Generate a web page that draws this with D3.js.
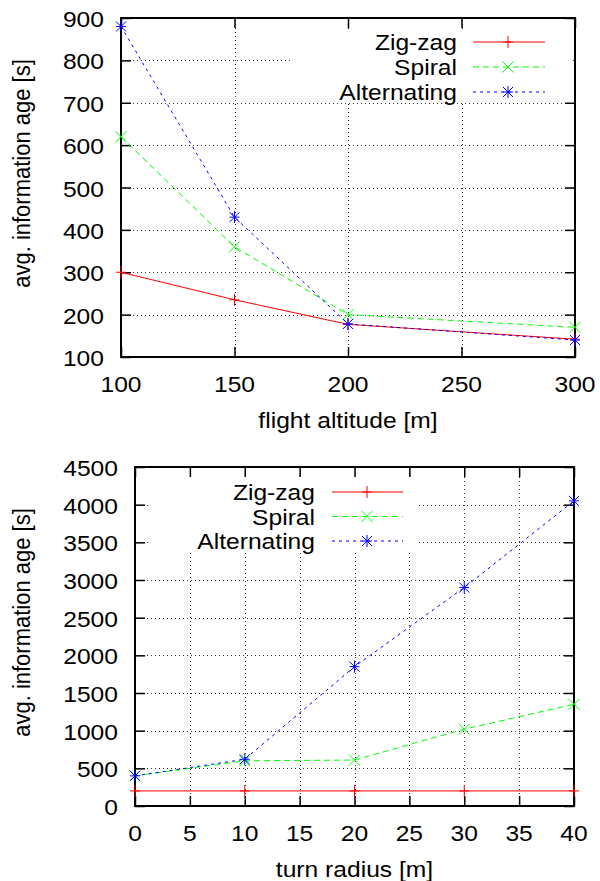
<!DOCTYPE html>
<html>
<head>
<meta charset="utf-8">
<script src="https://cdn.jsdelivr.net/npm/d3@7"></script>
<style>
html,body{margin:0;padding:0;background:#fff;}
svg{display:block;}
text{font-family:"Liberation Sans",Arial,sans-serif;font-size:22px;fill:#000;}
</style>
</head>
<body>
<svg id="chart" width="600" height="881"></svg>
<script>
// ---- data: chart 1 (flight altitude) ----
const altitude = [100, 150, 200, 300];
const altZigzag = [300, 235, 177, 142];
const altSpiral = [620, 360, 200, 170];
const altAlternating = [880, 430, 178, 140];
const altXTicks = [100, 150, 200, 250, 300];
const altYTicks = [100, 200, 300, 400, 500, 600, 700, 800, 900];

// ---- data: chart 2 (turn radius) ----
const radius = [0, 10, 20, 30, 40];
const radZigzag = [200, 200, 200, 200, 200];
const radSpiral = [400, 600, 610, 1020, 1350];
const radAlternating = [400, 620, 1850, 2900, 4050];
const radXTicks = [0, 5, 10, 15, 20, 25, 30, 35, 40];
const radYTicks = [0, 500, 1000, 1500, 2000, 2500, 3000, 3500, 4000, 4500];

const seriesNames = ["Zig-zag", "Spiral", "Alternating"];
const seriesColors = ["#ff0000", "#00ff00", "#0000ff"];
const seriesDash = [null, "6,4", "3,4"];
const seriesMarker = ["plus", "cross", "star"];

const SX = 1.12; // horizontal text stretch
const svg = d3.select("#chart");

function marker(g, type, x, y, color) {
  const p = d3.path();
  if (type === "plus" || type === "star") {
    p.moveTo(x - 5, y); p.lineTo(x + 5, y);
    p.moveTo(x, y - 6); p.lineTo(x, y + 6);
  }
  if (type === "cross" || type === "star") {
    const s = type === "cross" ? 5.5 : 5;
    p.moveTo(x - s, y - s); p.lineTo(x + s, y + s);
    p.moveTo(x - s, y + s); p.lineTo(x + s, y - s);
  }
  g.append("path").attr("d", p.toString()).attr("stroke", color)
    .attr("stroke-width", 1).attr("fill", "none");
}

function stretchText(g, x, y, str, anchor, rotate) {
  return g.append("text")
    .attr("transform", `translate(${x},${y}) scale(${SX},1)` + (rotate ? ` rotate(${rotate})` : ""))
    .attr("text-anchor", anchor)
    .text(str);
}

function drawChart(cfg) {
  const g = svg.append("g");
  const x = d3.scaleLinear().domain(cfg.xDomain).range([cfg.left, cfg.right]);
  const y = d3.scaleLinear().domain(cfg.yDomain).range([cfg.bottom, cfg.top]);

  // grid
  const grid = g.append("g").attr("stroke", "#000").attr("stroke-width", 1)
    .attr("stroke-dasharray", "1,3").attr("opacity", 0.8);
  cfg.xTicks.forEach(t => {
    if (t === cfg.xDomain[0] || t === cfg.xDomain[1]) return;
    grid.append("line").attr("x1", Math.round(x(t)) + 0.5).attr("x2", Math.round(x(t)) + 0.5)
      .attr("y1", cfg.bottom).attr("y2", cfg.top);
  });
  cfg.yTicks.forEach(t => {
    if (t === cfg.yDomain[0] || t === cfg.yDomain[1]) return;
    grid.append("line").attr("y1", Math.round(y(t)) + 0.5).attr("y2", Math.round(y(t)) + 0.5)
      .attr("x1", cfg.left).attr("x2", cfg.right);
  });

  // opaque legend area
  g.append("rect").attr("x", cfg.keyBox[0]).attr("y", cfg.keyBox[1])
    .attr("width", cfg.keyBox[2] - cfg.keyBox[0]).attr("height", cfg.keyBox[3] - cfg.keyBox[1])
    .attr("fill", "#fff");

  // axes using d3 axis generators (ticks inward, mirrored)
  const tl = 10;
  const axB = g.append("g").attr("transform", `translate(0,${cfg.bottom})`)
    .call(d3.axisBottom(x).tickValues(cfg.xTicks).tickSize(-tl).tickFormat(""));
  const axT = g.append("g").attr("transform", `translate(0,${cfg.top})`)
    .call(d3.axisTop(x).tickValues(cfg.xTicks).tickSize(-tl).tickFormat(""));
  const axL = g.append("g").attr("transform", `translate(${cfg.left},0)`)
    .call(d3.axisLeft(y).tickValues(cfg.yTicks).tickSize(-tl).tickFormat(""));
  const axR = g.append("g").attr("transform", `translate(${cfg.right},0)`)
    .call(d3.axisRight(y).tickValues(cfg.yTicks).tickSize(-tl).tickFormat(""));
  [axB, axT, axL, axR].forEach(a => {
    a.select(".domain").remove();
    a.selectAll(".tick line").attr("stroke", "#000").attr("stroke-width", 1.5);
  });
  // hide ticks inside the opaque key box
  [axT, axR, axL].forEach(a => {
    a.selectAll(".tick").each(function () {
      const bb = this.getBBox();
      const m = this.getCTM();
      const cx = m.e + bb.x + bb.width / 2, cy = m.f + bb.y + bb.height / 2;
      if (cx > cfg.keyBox[0] && cx < cfg.keyBox[2] && cy > cfg.keyBox[1] && cy < cfg.keyBox[3]) d3.select(this).remove();
    });
  });

  // tick labels
  cfg.xTicks.forEach(t => stretchText(g, x(t), cfg.bottom + 34.5, String(t), "middle"));
  cfg.yTicks.forEach(t => stretchText(g, cfg.left - 17, y(t) + 9, String(t), "end"));

  // frame
  g.append("rect").attr("x", cfg.left).attr("y", cfg.top)
    .attr("width", cfg.right - cfg.left).attr("height", cfg.bottom - cfg.top)
    .attr("fill", "none").attr("stroke", "#000").attr("stroke-width", 2);

  // axis titles
  stretchText(g, (cfg.left + cfg.right) / 2, cfg.bottom + 71, cfg.xTitle, "middle");
  stretchText(g, 30, (cfg.top + cfg.bottom) / 2 - 14, cfg.yTitle, "middle", -90);

  // series
  cfg.series.forEach((vals, i) => {
    const line = d3.line().x((d, j) => x(cfg.xs[j])).y(d => y(d));
    g.append("path").datum(vals).attr("d", line).attr("fill", "none")
      .attr("stroke", seriesColors[i]).attr("stroke-width", 1)
      .attr("stroke-dasharray", seriesDash[i]);
    vals.forEach((v, j) => marker(g, seriesMarker[i], x(cfg.xs[j]), y(v), seriesColors[i]));
  });

  // legend
  seriesNames.forEach((name, i) => {
    const ly = cfg.key.y + i * cfg.key.dy;
    stretchText(g, cfg.key.textRight, ly + 8, name, "end");
    g.append("line").attr("x1", cfg.key.x1).attr("x2", cfg.key.x2)
      .attr("y1", ly).attr("y2", ly).attr("stroke", seriesColors[i])
      .attr("stroke-width", 1).attr("stroke-dasharray", seriesDash[i]);
    marker(g, seriesMarker[i], cfg.key.mx, ly, seriesColors[i]);
  });
}

drawChart({
  left: 121, right: 575, top: 18, bottom: 357,
  xDomain: [100, 300], yDomain: [100, 900],
  xTicks: altXTicks, yTicks: altYTicks,
  xs: altitude, series: [altZigzag, altSpiral, altAlternating],
  xTitle: "flight altitude [m]", yTitle: "avg. information age [s]",
  keyBox: [293, 30, 573, 103],
  key: { y: 42, dy: 25, textRight: 457, x1: 473, x2: 545, mx: 508 }
});

drawChart({
  left: 135, right: 574, top: 467, bottom: 806,
  xDomain: [0, 40], yDomain: [0, 4500],
  xTicks: radXTicks, yTicks: radYTicks,
  xs: radius, series: [radZigzag, radSpiral, radAlternating],
  xTitle: "turn radius [m]", yTitle: "avg. information age [s]",
  keyBox: [148, 477, 418, 553],
  key: { y: 492, dy: 24.5, textRight: 315, x1: 332, x2: 403, mx: 367 }
});
</script>
</body>
</html>
